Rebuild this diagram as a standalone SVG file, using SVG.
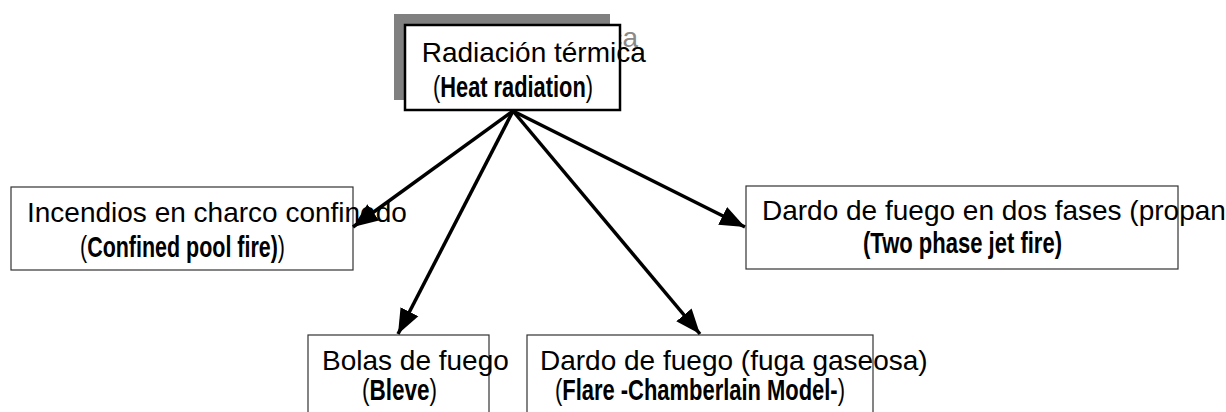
<svg xmlns="http://www.w3.org/2000/svg" width="1226" height="412" viewBox="0 0 1226 412">
<defs>
<style>
.box{fill:#fff;stroke:#333;stroke-width:1.2}
.main{fill:#fff;stroke:#000;stroke-width:2.5}
.t{font-family:"Liberation Sans",Arial,sans-serif;font-size:28px;fill:#000}
.b{font-family:"Liberation Sans Narrow","Liberation Sans",Arial,sans-serif;font-size:30px;font-weight:bold;fill:#000}
.p{font-weight:normal}
.edge{stroke:#000;stroke-width:3.5;fill:none;marker-end:url(#ah)}
</style>
<marker id="ah" markerUnits="userSpaceOnUse" markerWidth="26" markerHeight="22" refX="25" refY="11" orient="auto">
<path d="M0,1 L25,11 L0,21 z" fill="#000"/>
</marker>
</defs>
<g id="node-heat">
<rect x="394" y="14" width="216" height="86" fill="#808080"/>
<text class="t" x="414" y="47" style="fill:#8a8a8a">Radiación térmica</text>
<rect class="main" x="405" y="25" width="215" height="85"/>
<text class="t" x="421.7" y="62">Radiación térmica</text>
<text class="b" x="433" y="97" textLength="160" lengthAdjust="spacingAndGlyphs"><tspan class="p">(</tspan>Heat radiation<tspan class="p">)</tspan></text>
</g>
<g id="node-pool">
<rect class="box" x="11" y="187" width="342" height="83"/>
<text class="t" x="27" y="222">Incendios en charco confinedo</text>
<text class="b" x="80" y="257" textLength="205" lengthAdjust="spacingAndGlyphs"><tspan class="p">(</tspan>Confined pool fire)<tspan class="p">)</tspan></text>
</g>
<g id="node-jet">
<rect class="box" x="746" y="186" width="432" height="83"/>
<text class="t" x="762" y="220">Dardo de fuego en dos fases (propano)</text>
<text class="b" x="863" y="253" textLength="199" lengthAdjust="spacingAndGlyphs">(Two phase jet fire)</text>
</g>
<g id="node-bleve">
<rect class="box" x="308" y="335" width="181" height="90"/>
<text class="t" x="322" y="370">Bolas de fuego</text>
<text class="b" x="362" y="400" textLength="75" lengthAdjust="spacingAndGlyphs"><tspan class="p">(</tspan>Bleve<tspan class="p">)</tspan></text>
</g>
<g id="node-flare">
<rect class="box" x="527" y="335" width="346" height="90"/>
<text class="t" x="540" y="370">Dardo de fuego (fuga gaseosa)</text>
<text class="b" x="555" y="400" textLength="290" lengthAdjust="spacingAndGlyphs"><tspan class="p">(</tspan>Flare -Chamberlain Model-<tspan class="p">)</tspan></text>
</g>
<g id="connectors">
<line class="edge" x1="513" y1="111" x2="353" y2="227"/>
<line class="edge" x1="513" y1="111" x2="745" y2="227"/>
<line class="edge" x1="513" y1="111" x2="398" y2="334"/>
<line class="edge" x1="513" y1="111" x2="700" y2="334"/>
</g>
</svg>
